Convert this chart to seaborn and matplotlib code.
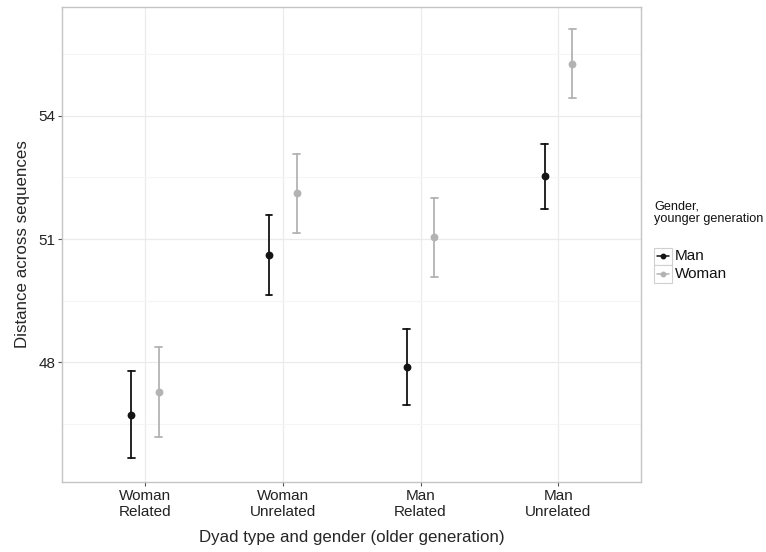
import pandas as pd
import matplotlib
matplotlib.use('Agg')
import matplotlib.pyplot as plt
from matplotlib.lines import Line2D
from matplotlib.patches import Rectangle
from matplotlib.ticker import FixedLocator
import seaborn as sns
import numpy as np

sns.set_style("white")
plt.rcParams['font.family'] = ['Liberation Sans', 'DejaVu Sans']

# values (mean and interval ends)
categories = ["Woman\nRelated", "Woman\nUnrelated", "Man\nRelated", "Man\nUnrelated"]
genders = ["Man", "Woman"]
man_mean = [46.72, 50.61, 47.90, 52.53]
man_low = [45.67, 49.63, 46.97, 51.73]
man_high = [47.80, 51.59, 48.82, 53.32]
woman_mean = [47.27, 52.12, 51.04, 55.27]
woman_low = [46.18, 51.16, 50.09, 54.44]
woman_high = [48.37, 53.07, 52.00, 56.11]

rows = []
for gender, lo, mid, hi in [("Man", man_low, man_mean, man_high),
                            ("Woman", woman_low, woman_mean, woman_high)]:
    for cat, a, b, c in zip(categories, lo, mid, hi):
        for v in (a, b, c):
            rows.append({"dyad": cat, "gender": gender, "distance": v})
df = pd.DataFrame(rows)

colors = {"Man": "#141414", "Woman": "#b3b3b3"}

W, H = 766, 552
fig = plt.figure(figsize=(W / 100, H / 100), dpi=100)
ax = fig.add_axes([0.0813, 0.1274, 0.7555, 0.8594])

# median of (low, mean, high) = mean, min/max = interval ends
sns.pointplot(data=df, x="dyad", y="distance", hue="gender",
              order=categories, hue_order=genders, palette=colors,
              estimator="median", errorbar=lambda v: (v.min(), v.max()),
              dodge=0.2, linestyle="none", markers="o", markersize=3.6,
              capsize=0.05, err_kws={"linewidth": 1.3},
              legend=False, ax=ax)

ax.set_xlim(-0.6, 3.6)
ax.set_ylim(45.1, 56.64)
ax.set_yticks([48, 51, 54])
ax.yaxis.set_minor_locator(FixedLocator([46.5, 49.5, 52.5, 55.5]))
ax.grid(True, which="major", color="#ebebeb", linewidth=0.9)
ax.grid(True, which="minor", axis="y", color="#f5f5f5", linewidth=0.8)
ax.set_axisbelow(True)

for s in ax.spines.values():
    s.set_color("#c4c4c4")
    s.set_linewidth(1.0)

ax.tick_params(axis="both", which="major", length=3, width=0.8, color="#555555",
               labelsize=11, labelcolor="#222222", pad=2, bottom=True, left=True)
ax.tick_params(axis="both", which="minor", length=0)

ax.set_xlabel("Dyad type and gender (older generation)", fontsize=12.2, labelpad=8)
ax.set_ylabel("Distance across sequences", fontsize=12.2, labelpad=6)

# ggplot-like legend: title, boxed keys, labels
def px(x, y):
    return x / W, 1 - y / H

fig.text(*px(654, 213), "Gender,\nyounger generation", fontsize=9.1,
         ha="left", va="center", linespacing=1.05, color="#111111")
key_w, key_h = 18, 17.5
for i, g in enumerate(genders):
    top = 247.5 + i * key_h
    x0, y0 = px(654, top + key_h)
    fig.add_artist(Rectangle((x0, y0), key_w / W, key_h / H, transform=fig.transFigure,
                             facecolor="white", edgecolor="#d0d0d0", linewidth=0.8))
    cx, cy = px(654 + key_w / 2, top + key_h / 2)
    fig.add_artist(Line2D([px(657, 0)[0], px(669, 0)[0]], [cy, cy],
                          transform=fig.transFigure, color=colors[g], linewidth=1.1))
    fig.add_artist(Line2D([cx], [cy], transform=fig.transFigure, color=colors[g],
                          marker="o", markersize=3.2, linestyle="none"))
    fig.text(*px(675, top + key_h / 2), g, fontsize=11, ha="left", va="center",
             color="#111111")

fig.savefig("out.png", dpi=100)
